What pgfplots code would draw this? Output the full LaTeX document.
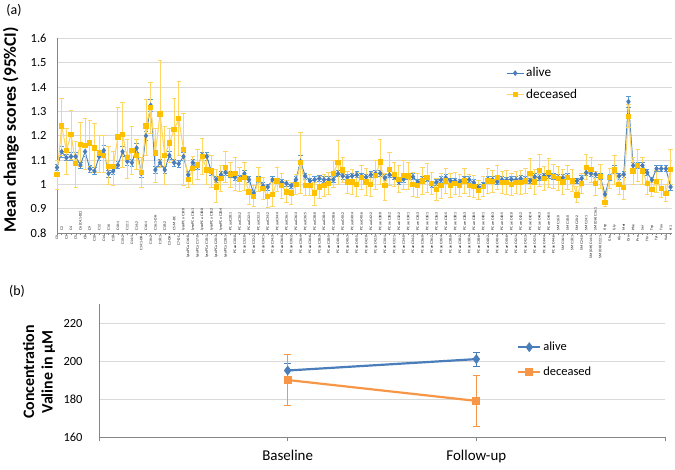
\documentclass[border=0pt]{standalone}
\usepackage{fontspec}
\setmainfont{Carlito}
\usepackage{pgfplots}
\usepackage{pgfplotstable}
\pgfplotsset{compat=1.18}

\definecolor{alive}{RGB}{74,126,187}
\definecolor{alivebar}{RGB}{91,155,213}
\definecolor{dec}{RGB}{255,192,0}
\definecolor{decline}{RGB}{255,214,100}
\definecolor{orng}{RGB}{247,150,70}
\definecolor{gridc}{RGB}{217,217,217}
\definecolor{axc}{RGB}{134,134,134}

% i: metabolite index, a/ae: alive mean and CI half width, d/dp/dm: deceased mean, CI plus, CI minus
\pgfplotstableread{
i a ae d dp dm
0 1.070 0.012 1.040 0.060 0.060
1 1.135 0.022 1.240 0.115 0.120
2 1.110 0.012 1.140 0.090 0.100
3 1.115 0.015 1.205 0.100 0.100
4 1.115 0.018 1.085 0.090 0.095
5 1.080 0.012 1.165 0.090 0.090
6 1.135 0.020 1.160 0.110 0.100
7 1.065 0.014 1.170 0.095 0.095
8 1.055 0.014 1.150 0.100 0.100
9 1.115 0.015 1.130 0.070 0.080
10 1.140 0.020 1.120 0.080 0.070
11 1.045 0.015 1.075 0.080 0.075
12 1.055 0.015 1.075 0.060 0.080
13 1.080 0.015 1.195 0.120 0.120
14 1.135 0.020 1.205 0.130 0.135
15 1.095 0.015 1.110 0.075 0.085
16 1.090 0.015 1.140 0.100 0.100
17 1.150 0.020 1.120 0.065 0.060
18 1.045 0.015 1.050 0.060 0.060
19 1.200 0.020 1.240 0.110 0.120
20 1.325 0.025 1.315 0.105 0.105
21 1.060 0.015 1.130 0.100 0.120
22 1.090 0.015 1.290 0.220 0.220
23 1.060 0.015 1.120 0.120 0.120
24 1.120 0.015 1.170 0.060 0.080
25 1.090 0.015 1.225 0.130 0.125
26 1.085 0.015 1.270 0.155 0.150
27 1.115 0.015 1.145 0.145 0.150
28 1.040 0.015 1.020 0.030 0.030
29 1.090 0.012 1.065 0.050 0.065
30 1.075 0.012 1.080 0.065 0.060
31 1.120 0.012 1.115 0.075 0.075
32 1.115 0.015 1.060 0.065 0.060
33 1.050 0.012 1.055 0.065 0.065
34 1.020 0.012 0.990 0.070 0.065
35 1.040 0.012 1.025 0.055 0.055
36 1.050 0.012 1.070 0.065 0.060
37 1.040 0.012 1.040 0.050 0.050
38 1.030 0.012 1.045 0.065 0.070
39 1.025 0.012 1.020 0.050 0.050
40 1.045 0.012 1.030 0.060 0.055
41 1.020 0.012 0.970 0.050 0.050
42 0.965 0.012 0.950 0.045 0.040
43 1.020 0.012 1.020 0.050 0.050
44 0.995 0.012 0.985 0.045 0.045
45 0.990 0.012 0.950 0.045 0.045
46 1.020 0.012 0.960 0.050 0.050
47 1.015 0.012 1.015 0.055 0.045
48 1.010 0.012 0.995 0.050 0.050
49 1.005 0.012 0.970 0.045 0.045
50 0.995 0.012 0.965 0.045 0.045
51 1.020 0.012 1.000 0.040 0.040
52 1.095 0.025 1.090 0.125 0.125
53 1.035 0.012 0.995 0.040 0.040
54 1.015 0.012 0.995 0.045 0.040
55 1.020 0.012 0.965 0.045 0.050
56 1.025 0.012 0.990 0.045 0.045
57 1.020 0.012 0.995 0.045 0.045
58 1.020 0.012 1.005 0.045 0.045
59 1.020 0.012 1.045 0.055 0.055
60 1.045 0.012 1.090 0.090 0.090
61 1.035 0.012 1.060 0.050 0.050
62 1.030 0.012 1.010 0.045 0.045
63 1.035 0.012 1.011 0.050 0.050
64 1.040 0.012 1.001 0.050 0.050
65 1.035 0.012 1.028 0.050 0.050
66 1.030 0.012 1.011 0.055 0.055
67 1.040 0.012 1.001 0.050 0.050
68 1.045 0.012 1.038 0.060 0.060
69 1.046 0.012 1.092 0.095 0.090
70 1.028 0.012 0.995 0.050 0.060
71 1.040 0.012 1.062 0.070 0.065
72 1.032 0.012 1.042 0.050 0.050
73 1.011 0.012 1.022 0.055 0.055
74 1.022 0.012 1.038 0.060 0.060
75 1.035 0.012 1.035 0.055 0.055
76 1.032 0.012 1.001 0.050 0.050
77 1.010 0.012 0.997 0.050 0.050
78 1.020 0.012 1.015 0.055 0.055
79 1.025 0.012 1.028 0.060 0.060
80 1.000 0.012 1.005 0.045 0.045
81 1.010 0.012 0.981 0.045 0.045
82 1.020 0.012 0.995 0.050 0.050
83 1.028 0.012 1.015 0.050 0.050
84 1.015 0.012 0.997 0.050 0.050
85 1.015 0.012 1.005 0.045 0.045
86 1.011 0.012 0.995 0.045 0.045
87 1.022 0.012 1.015 0.050 0.050
88 1.020 0.012 0.995 0.045 0.045
89 1.008 0.012 0.991 0.045 0.045
90 0.988 0.012 0.977 0.040 0.040
91 0.998 0.012 0.992 0.040 0.040
92 1.022 0.012 1.015 0.050 0.050
93 1.020 0.012 1.012 0.045 0.045
94 1.011 0.012 1.028 0.050 0.050
95 1.020 0.012 1.008 0.045 0.045
96 1.018 0.012 1.008 0.050 0.050
97 1.022 0.012 1.001 0.045 0.045
98 1.020 0.012 1.008 0.045 0.045
99 1.025 0.012 1.008 0.050 0.050
100 1.020 0.012 1.015 0.050 0.050
101 1.015 0.012 1.046 0.060 0.060
102 1.032 0.012 1.011 0.050 0.050
103 1.028 0.012 1.058 0.065 0.065
104 1.035 0.012 1.024 0.050 0.050
105 1.038 0.012 1.049 0.060 0.060
106 1.032 0.012 1.032 0.050 0.050
107 1.028 0.012 1.024 0.050 0.050
108 1.028 0.012 1.011 0.050 0.050
109 1.032 0.012 1.028 0.050 0.050
110 1.015 0.012 1.015 0.045 0.045
111 1.015 0.012 0.957 0.035 0.030
112 1.025 0.012 1.005 0.040 0.040
113 1.049 0.012 1.069 0.055 0.050
114 1.045 0.012 1.062 0.050 0.055
115 1.042 0.012 1.005 0.050 0.050
116 1.032 0.012 1.032 0.050 0.050
117 0.960 0.012 0.927 0.020 0.015
118 1.028 0.012 1.028 0.040 0.045
119 1.062 0.015 1.060 0.060 0.060
120 1.035 0.012 1.000 0.040 0.040
121 1.042 0.012 0.988 0.050 0.050
122 1.340 0.022 1.280 0.050 0.045
123 1.078 0.012 1.055 0.055 0.055
124 1.078 0.012 1.078 0.065 0.065
125 1.078 0.012 1.055 0.055 0.055
126 1.049 0.012 1.005 0.045 0.045
127 1.019 0.012 0.980 0.030 0.030
128 1.065 0.012 1.012 0.045 0.045
129 1.065 0.012 0.984 0.035 0.035
130 1.065 0.012 0.964 0.035 0.035
131 0.990 0.012 1.062 0.080 0.060
}\mcs

\begin{document}
\begin{tikzpicture}
\useasboundingbox (0,0) rectangle (675bp,470bp);

\node[font=\fontsize{14}{16}\selectfont] at (14bp,460bp) {(a)};
\node[font=\fontsize{14}{16}\selectfont] at (17bp,179bp) {(b)};

% panel (a)
\begin{axis}[
    at={(57bp,236.7bp)}, anchor=south west,
    scale only axis, width=615bp, height=195bp,
    xmin=0, xmax=131.3, ymin=0.8, ymax=1.6,
    clip=false,
    axis x line*=bottom, axis y line*=left,
    axis line style={axc, line width=0.8bp},
    ymajorgrids, grid style={gridc, line width=1bp},
    ytick={0.8,0.9,1,1.1,1.2,1.3,1.4,1.5,1.6},
    ytick style={draw=none},
    yticklabel style={font=\fontsize{12.5}{14}\selectfont,
        /pgf/number format/fixed, /pgf/number format/precision=1},
    yticklabel shift=5bp,
    /pgf/number format/assume math mode=true,
    tick align=outside, major tick length=2bp,
    xtick style={axc, line width=0.4bp},
    xtick={0,2,...,130},
    xticklabels={C0,C3,C5,C8,C10,C14,C18,C10:2,C14:1,C14:1-OH,C16:2,C18:1,C3-OH,C7-DC,
        lysoPC a C16:0,lysoPC a C17:0,lysoPC a C18:1,lysoPC a C20:3,lysoPC a C28:1,
        PC aa C30:0,PC aa C32:0,PC aa C32:2,PC aa C34:1,PC aa C34:3,PC aa C36:0,PC aa C36:2,
        PC aa C36:4,PC aa C36:6,PC aa C38:3,PC aa C38:5,PC aa C40:1,PC aa C40:3,PC aa C40:5,
        PC aa C42:0,PC aa C42:5,PC ae C30:1,PC ae C32:1,PC ae C34:0,PC ae C34:2,PC ae C36:0,
        PC ae C36:2,PC ae C36:4,PC ae C38:0,PC ae C38:2,PC ae C38:4,PC ae C38:6,PC ae C40:2,
        PC ae C40:4,PC ae C40:6,PC ae C42:1,PC ae C42:3,PC ae C42:5,PC ae C44:4,PC ae C44:6,
        SM C16:1,SM C18:1,SM C24:0,SM (OH) C14:1,SM (OH) C22:1,Gln,His,Orn,Pro,Thr,Tyr,Val},
    extra x ticks={1,3,...,131},
    extra x tick labels={C2,C4,C6 (C4:1-DC),C9,C12,C16,C10:1,C12:1,C14:2,C16:1,C16:1-OH,C18:2,
        C5-M-DC,lysoPC a C14:0,lysoPC a C16:1,lysoPC a C18:0,lysoPC a C18:2,lysoPC a C20:4,
        PC aa C28:1,PC aa C30:2,PC aa C32:1,PC aa C32:3,PC aa C34:2,PC aa C34:4,PC aa C36:1,
        PC aa C36:3,PC aa C36:5,PC aa C38:0,PC aa C38:4,PC aa C38:6,PC aa C40:2,PC aa C40:4,
        PC aa C40:6,PC aa C42:2,PC ae C30:0,PC ae C30:2,PC ae C32:2,PC ae C34:1,PC ae C34:3,
        PC ae C36:1,PC ae C36:3,PC ae C36:5,PC ae C38:1,PC ae C38:3,PC ae C38:5,PC ae C40:1,
        PC ae C40:3,PC ae C40:5,PC ae C42:0,PC ae C42:2,PC ae C42:4,PC ae C44:3,PC ae C44:5,
        SM C16:0,SM C18:0,SM C20:2,SM C24:1,SM (OH) C16:1,Arg,Gly,Met,Phe,Ser,Trp,Tau,H1},
    xticklabel style={rotate=90, anchor=east, inner sep=0.5bp,
        font=\fontsize{3.7}{3.9}\selectfont},
    extra x tick style={xticklabel style={anchor=west,
        execute at begin node={\hspace*{4.5bp}}}},
    ylabel={Mean change scores (95\%CI)},
    ylabel style={font=\bfseries\fontsize{17.5}{19}\selectfont,
        at={(axis description cs:-0.0748,0.53)}, anchor=center},
    legend style={at={(0.73,0.86)}, anchor=north west, draw=none, fill=none,
        font=\fontsize{13.3}{15}\selectfont, row sep=7bp, inner sep=0pt},
    legend cell align=left,
    legend image code/.code={\draw[mark repeat=2, mark phase=2, #1]
        plot coordinates {(0bp,0bp) (8.5bp,0bp) (17bp,0bp)};},
]
\addplot[alive, line width=0.9bp, mark=diamond*, mark size=2.2bp,
    mark options={solid, fill=alive},
    error bars/.cd, y dir=both, y explicit,
    error bar style={alivebar, line width=0.8bp},
    error mark options={rotate=90, alivebar, mark size=2.2bp, line width=0.8bp}]
    table[x=i, y=a, y error=ae]{\mcs};
\addlegendentry{alive}
\addplot[decline, line width=1.1bp, mark=square*, mark size=2.1bp,
    mark options={solid, draw=dec, fill=dec},
    error bars/.cd, y dir=both, y explicit,
    error bar style={decline, line width=0.9bp},
    error mark options={rotate=90, decline, mark size=2.2bp, line width=0.9bp}]
    table[x=i, y=d, y error plus=dp, y error minus=dm]{\mcs};
\addlegendentry{deceased}
\end{axis}

% panel (b)
\begin{axis}[
    at={(99bp,33bp)}, anchor=south west,
    scale only axis, width=566bp, height=133bp,
    xmin=0, xmax=3, ymin=160, ymax=230,
    axis x line*=bottom, axis y line*=left,
    axis line style={axc, line width=0.8bp},
    ymajorgrids, grid style={gridc, line width=1bp},
    ytick={160,180,200,220}, ytick style={draw=none},
    yticklabel style={font=\fontsize{12.5}{14}\selectfont},
    yticklabel shift=9bp,
    /pgf/number format/assume math mode=true,
    xtick={0,1,2,3}, xticklabels={,Baseline,Follow-up,},
    tick align=outside, major tick length=4bp,
    xtick style={axc, line width=0.8bp},
    xticklabel style={font=\fontsize{15}{17}\selectfont},
    xticklabel shift=6bp,
    ylabel={Concentration\\Valine in µM},
    ylabel style={font=\bfseries\fontsize{16}{18.5}\selectfont, align=center,
        at={(axis description cs:-0.106,0.49)}, anchor=center},
    legend style={at={(0.7385,0.73)}, anchor=north west, draw=none, fill=none,
        font=\fontsize{12.5}{14}\selectfont, row sep=11bp, inner sep=0pt},
    legend cell align=left,
    legend image code/.code={\draw[mark repeat=2, mark phase=2, #1]
        plot coordinates {(0bp,0bp) (11bp,0bp) (22bp,0bp)};},
]
\addplot[alive, line width=2.2bp, mark=diamond*, mark size=3.2bp,
    mark options={solid, fill=alive},
    error bars/.cd, y dir=both, y explicit,
    error bar style={alive, line width=0.8bp},
    error mark options={rotate=90, alive, mark size=3.5bp, line width=0.8bp}]
    coordinates {(1,195) +- (0,4) (2,201) +- (0,3.7)};
\addlegendentry{alive}
\addplot[orng, line width=2.2bp, mark=square*, mark size=2.8bp,
    mark options={solid, fill=orng},
    error bars/.cd, y dir=both, y explicit,
    error bar style={orng, line width=0.8bp},
    error mark options={rotate=90, orng, mark size=3.5bp, line width=0.8bp}]
    coordinates {(1,190) +- (0,13.5) (2,179) +- (0,13.3)};
\addlegendentry{deceased}
\end{axis}
\end{tikzpicture}
\end{document}
